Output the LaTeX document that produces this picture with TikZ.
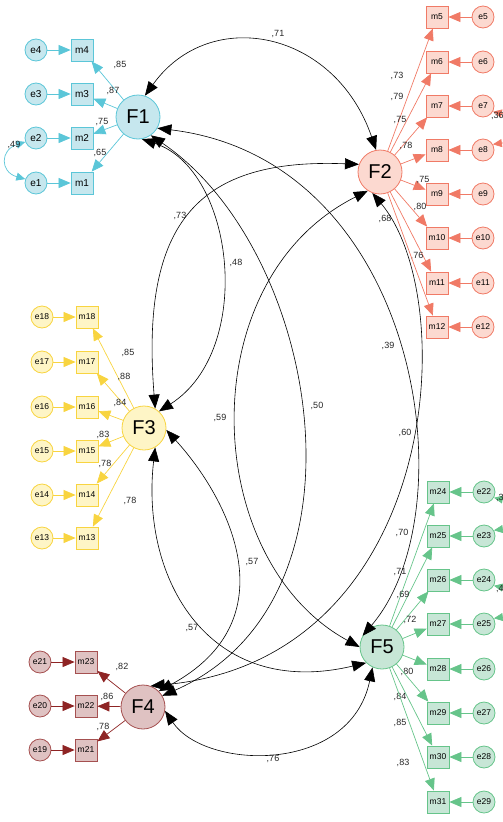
\documentclass[tikz,border=0pt]{standalone}
\usepackage{fontspec}
\setmainfont{Liberation Sans}
\usetikzlibrary{arrows.meta}
\definecolor{cyanline}{HTML}{5BC6D8}
\definecolor{cyanfill}{HTML}{C6E7EE}
\definecolor{salmonline}{HTML}{F07A66}
\definecolor{salmonfill}{HTML}{FCD9D0}
\definecolor{yellowline}{HTML}{F8D440}
\definecolor{yellowfill}{HTML}{FEF5C6}
\definecolor{maroonline}{HTML}{8E2424}
\definecolor{maroonfill}{HTML}{DFC2C2}
\definecolor{greenline}{HTML}{66C48A}
\definecolor{greenfill}{HTML}{C7E6D6}
\tikzset{
latent/.style={draw, circle, line width=0.8pt, minimum size=44pt, inner sep=0pt,
	font=\fontsize{20}{20}\selectfont},
manifest/.style={draw, rectangle, line width=0.8pt, minimum size=22pt, inner sep=0pt,
	font=\fontsize{8.5}{9}\selectfont},
errvar/.style={draw, circle, line width=0.8pt, minimum size=22pt, inner sep=0pt,
	font=\fontsize{8.5}{9}\selectfont},
load/.style={draw=#1, line width=0.7pt, -{Triangle[length=12pt,width=10pt]}},
errcov/.style={draw=#1, line width=0.7pt,
	{Triangle[length=9pt,width=8pt]}-{Triangle[length=9pt,width=8pt]}},
cov/.style={line width=0.6pt,
	{Triangle[length=14pt,width=11pt]}-{Triangle[length=14pt,width=11pt]}},
coeff/.style={font=\fontsize{9}{10}\selectfont, text=black!85, inner sep=0pt}
}

\begin{document}
\begin{tikzpicture}[x=1pt, y=-1pt]
	\useasboundingbox (0,0) rectangle (503,822);
	\node[latent, draw=cyanline, fill=cyanfill] (F1) at (138,117) {F1};
	\node[latent, draw=salmonline, fill=salmonfill] (F2) at (380,172) {F2};
	\node[latent, draw=yellowline, fill=yellowfill] (F3) at (144,428) {F3};
	\node[latent, draw=maroonline!80, fill=maroonfill] (F4) at (143,707) {F4};
	\node[latent, draw=greenline, fill=greenfill] (F5) at (382,647) {F5};

	\foreach \i/\y/\v/\lx/\ly in {4/50/85/120/65, 3/94/87/113/91, 2/138/75/102/122, 1/183/65/100/153}{
		\node[errvar, draw=cyanline, fill=cyanfill, font=\fontsize{10}{11}\selectfont] (e\i) at (36,\y) {e\i};
		\node[manifest, draw=cyanline, fill=cyanfill, font=\fontsize{10}{11}\selectfont] (m\i) at (82,\y) {m\i};
		\draw[load=cyanline] (e\i) -- (m\i);
		\draw[load=cyanline] (F1) -- (m\i);
		\node[coeff] (c\i) at (\lx,\ly) {,\v};
	}
	\foreach \i/\y/\v/\lx/\ly in {5/17/73/397/76, 6/62/79/397/97, 7/106/75/400/120, 8/150/78/406/146,
		9/194/75/423/180, 10/238/80/420/207, 11/283/76/417/256, 12/327/68/385/219}{
		\node[errvar, draw=salmonline, fill=salmonfill] (e\i) at (483,\y) {e\i};
		\node[manifest, draw=salmonline, fill=salmonfill] (m\i) at (437,\y) {m\i};
		\draw[load=salmonline] (e\i) -- (m\i);
		\draw[load=salmonline] (F2) -- (m\i);
		\node[coeff] (c\i) at (\lx,\ly) {,\v};
	}
	\foreach \i/\y/\v/\lx/\ly in {18/317/85/128/353, 17/362/88/124/377, 16/407/84/120/403,
		15/451/83/103/435, 14/495/78/105/464, 13/538/78/130/501}{
		\node[errvar, draw=yellowline, fill=yellowfill] (e\i) at (42,\y) {e\i};
		\node[manifest, draw=yellowline, fill=yellowfill] (m\i) at (87,\y) {m\i};
		\draw[load=yellowline] (e\i) -- (m\i);
		\draw[load=yellowline] (F3) -- (m\i);
		\node[coeff] (c\i) at (\lx,\ly) {,\v};
	}
	\foreach \m/\e/\y/\v/\lx/\ly in {23/21/662/82/122/667, 22/20/706/86/107/697, 21/19/750/78/103/727}{
		\node[errvar, draw=maroonline!80, fill=maroonfill] (e\e) at (40,\y) {e\e};
		\node[manifest, draw=maroonline!80, fill=maroonfill] (m\m) at (86,\y) {m\m};
		\draw[load=maroonline] (e\e) -- (m\m);
		\draw[load=maroonline] (F4) -- (m\m);
		\node[coeff] (c\m) at (\lx,\ly) {,\v};
	}
	\foreach \m/\e/\y/\v/\lx/\ly in {24/22/492/70/402/533, 25/23/536/71/400/572, 26/24/580/69/403/595,
		27/25/624/72/410/620, 28/26/669/80/407/672, 29/27/713/84/400/697, 30/28/757/85/400/723,
		31/29/802/83/403/763}{
		\node[errvar, draw=greenline, fill=greenfill] (e\e) at (484,\y) {e\e};
		\node[manifest, draw=greenline, fill=greenfill] (m\m) at (438,\y) {m\m};
		\draw[load=greenline] (e\e) -- (m\m);
		\draw[load=greenline] (F5) -- (m\m);
		\node[coeff] (c\m) at (\lx,\ly) {,\v};
	}

	\draw[errcov=cyanline] (e2.200) .. controls (0,150) and (0,172) .. (e1.160);
	\node[coeff] (ce1e2) at (14,145) {,49};
	\draw[errcov=salmonline] (e7.-30) .. controls (525,118) and (525,140) .. (e8.30);
	\node[coeff, anchor=west] (ce7e8) at (491,116) {,36};
	\draw[errcov=greenline] (e22.-30) .. controls (525,504) and (525,526) .. (e23.30);
	\node[coeff, anchor=west] (ce22e23) at (496,498) {,3};
	\draw[errcov=greenline] (e24.-30) .. controls (525,592) and (525,614) .. (e25.30);
	\node[coeff, anchor=west] (ce24e25) at (496,589) {,4};

	\draw[cov] (F1.72) .. controls (210,5) and (335,30) .. (F2.100);
	\draw[cov] (F3.60) .. controls (140,220) and (200,158) .. (F2.160);
	\draw[cov] (F1.-80) .. controls (235,170) and (255,350) .. (F3.48);
	\draw[cov] (F1.-55) .. controls (320,250) and (380,600) .. (F4.30);
	\draw[cov] (F2.-123) .. controls (190,280) and (200,560) .. (F5.180);
	\draw[cov] (F1.-30) .. controls (420,160) and (470,510) .. (F5.150);
	\draw[cov] (F2.-110) .. controls (462,300) and (440,660) .. (F4.70);
	\draw[cov] (F3.-5) .. controls (230,500) and (290,620) .. (F4.45);
	\draw[cov] (F3.-60) .. controls (140,580) and (210,700) .. (F5.-135);
	\draw[cov] (F4.-10) .. controls (205,770) and (350,775) .. (F5.-115);

	\node[coeff] (cF1F2) at (278,34) {,71};
	\node[coeff] (cF2F3) at (180,216) {,73};
	\node[coeff] (cF1F3) at (236,263) {,48};
	\node[coeff] (cF1F4) at (317,406) {,50};
	\node[coeff] (cF2F5) at (220,418) {,59};
	\node[coeff] (cF1F5) at (388,346) {,39};
	\node[coeff] (cF2F4) at (405,433) {,60};
	\node[coeff] (cF3F4) at (252,562) {,57};
	\node[coeff] (cF3F5) at (192,628) {,57};
	\node[coeff] (cF4F5) at (273,759) {,76};
\end{tikzpicture}
\end{document}
